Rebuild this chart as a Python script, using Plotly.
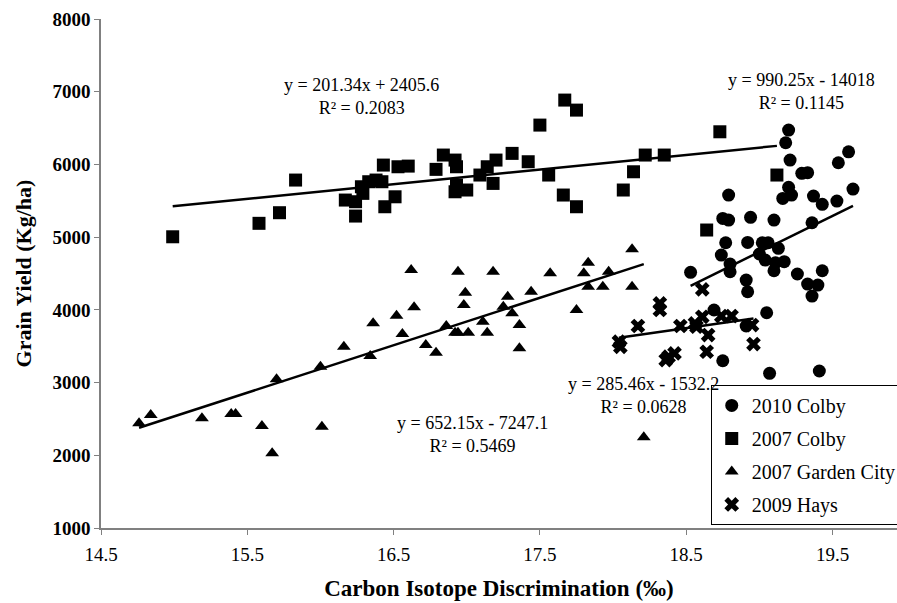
import plotly.graph_objects as go

# ---------------- data ----------------
colby2010_x = [19.20, 19.18, 19.21, 19.29, 19.33, 19.61, 19.54, 19.64, 19.20, 19.16,
               19.22, 19.37, 19.43, 19.53, 18.79, 18.75, 18.79, 18.94, 19.10, 19.36,
               18.77, 18.92, 19.02, 19.06, 19.13, 18.74, 19.00, 19.04, 19.11, 19.17,
               18.80, 18.80, 19.10, 18.53, 19.26, 19.43, 18.91, 19.33, 19.40, 18.92,
               19.36, 19.05, 18.69, 18.91, 18.75, 19.07, 19.41]
colby2010_y = [6473, 6298, 6060, 5877, 5886, 6174, 6023, 5661, 5685, 5533,
               5579, 5565, 5451, 5496, 5579, 5258, 5235, 5272, 5235, 5198,
               4923, 4928, 4923, 4923, 4846, 4754, 4768, 4685, 4648, 4662,
               4630, 4524, 4538, 4516, 4493, 4538, 4410, 4355, 4341, 4249,
               4190, 3960, 3998, 3778, 3300, 3127, 3159]

colby2007_x = [14.99, 15.58, 15.72, 15.83, 16.17, 16.24, 16.24, 16.29, 16.28, 16.33,
               16.38, 16.42, 16.43, 16.44, 16.51, 16.53, 16.60, 16.79, 16.84, 16.92,
               16.93, 16.93, 16.92, 17.00, 17.09, 17.14, 17.18, 17.20, 17.31, 17.42,
               17.50, 17.56, 17.67, 17.75, 17.66, 17.75, 18.07, 18.14, 18.22, 18.35,
               18.73, 19.12, 18.64]
colby2007_y = [5005, 5190, 5336, 5785, 5510, 5290, 5487, 5602, 5693, 5762,
               5785, 5762, 5991, 5418, 5555, 5968, 5977, 5932, 6129, 6060,
               5968, 5716, 5624, 5648, 5854, 5968, 5739, 6060, 6152, 6037,
               6541, 5854, 6885, 6747, 5579, 5418, 5648, 5899, 6129, 6129,
               6449, 5854, 5098]

garden_x = [14.76, 14.84, 15.19, 15.39, 15.42, 15.60, 15.67, 16.01, 15.70, 16.00,
            16.16, 16.34, 16.36, 16.52, 16.56, 16.62, 16.64, 16.72, 16.79, 16.86,
            16.92, 16.94, 17.01, 16.94, 16.99, 16.98, 17.11, 17.14, 17.18, 17.28,
            17.25, 17.31, 17.36, 17.36, 17.44, 17.57, 17.75, 17.83, 17.80, 17.83,
            17.93, 17.97, 18.13, 18.13, 18.21]
garden_y = [2440, 2554, 2508, 2568, 2568, 2403, 2027, 2393, 3045, 3218,
            3493, 3365, 3815, 3919, 3668, 4548, 4035, 3516, 3411, 3778,
            3686, 3686, 3686, 4524, 4236, 4066, 3837, 3686, 4524, 4180,
            4043, 3952, 3791, 3471, 4249, 4502, 3998, 4648, 4502, 4318,
            4318, 4524, 4318, 4832, 2247]

hays_x = [18.05, 18.04, 18.17, 18.32, 18.32, 18.38, 18.36, 18.42, 18.46, 18.56,
          18.61, 18.57, 18.61, 18.65, 18.64, 18.74, 18.81, 18.95, 18.96]
hays_y = [3490, 3562, 3778, 4090, 3998, 3356, 3310, 3402, 3778, 3815,
          3905, 3768, 4282, 3654, 3424, 3915, 3915, 3791, 3530]

series_names = ["2010 Colby", "2007 Colby", "2007 Garden City", "2009 Hays"]
slopes = [990.25, 201.34, 652.15, 285.46]
intercepts = [-14018, 2405.6, -7247.1, -1532.2]
r2_values = ["0.1145", "0.2083", "0.5469", "0.0628"]
eq_label_x = [19.29, 16.28, 17.04, 18.21]
eq_label_y = [7009, 6940, 2292, 2829]

x_ticks = [14.5, 15.5, 16.5, 17.5, 18.5, 19.5]
y_ticks = [1000, 2000, 3000, 4000, 5000, 6000, 7000, 8000]

# ---------------- figure ----------------
FONT = "Liberation Serif, Times New Roman, serif"
xs = [colby2010_x, colby2007_x, garden_x, hays_x]
ys = [colby2010_y, colby2007_y, garden_y, hays_y]
symbols = ["circle", "square", "triangle-up", "x"]
sizes = [13, 13, 12, 13]

fig = go.Figure()

# trend lines
for i in range(4):
    x0, x1 = min(xs[i]), max(xs[i])
    fig.add_trace(go.Scatter(
        x=[x0, x1], y=[slopes[i] * x0 + intercepts[i], slopes[i] * x1 + intercepts[i]],
        mode="lines", line=dict(color="black", width=2.5),
        showlegend=False, hoverinfo="skip"))

for i in range(4):
    fig.add_trace(go.Scatter(
        x=xs[i], y=ys[i], mode="markers", name=series_names[i],
        legendgroup=f"g{i}",
        marker=dict(symbol=symbols[i], size=sizes[i], color="black",
                    line=dict(width=0, color="black"))))

for i in range(4):
    b = intercepts[i]
    sign = "+" if b >= 0 else "-"
    txt = f"y = {slopes[i]:.2f}x {sign} {abs(b):g}<br>R² = {r2_values[i]}"
    fig.add_annotation(x=eq_label_x[i], y=eq_label_y[i], text=txt, showarrow=False,
                       align="center", font=dict(family=FONT, size=18, color="black"))

fig.update_layout(
    width=897, height=603,
    margin=dict(l=101, r=0, t=19, b=75, autoexpand=False),
    plot_bgcolor="white", paper_bgcolor="white",
    font=dict(family=FONT, color="black"),
    legend=dict(x=0.766, y=0.281, xanchor="left", yanchor="top",
                bgcolor="white", bordercolor="black", borderwidth=1,
                font=dict(family=FONT, size=20, color="black"),
                itemwidth=30, tracegroupgap=4),
    showlegend=True,
)
fig.update_xaxes(range=[14.5, 14.5 + 796 / 146.3], tickvals=x_ticks,
                 ticktext=[f"{v:.1f}" for v in x_ticks],
                 showline=True, linecolor="#808080", linewidth=1.5,
                 ticks="outside", ticklen=5, tickcolor="#808080",
                 ticklabelstandoff=3,
                 showgrid=False, zeroline=False,
                 tickfont=dict(family=FONT, size=19, color="black"),
                 title=dict(text="Carbon Isotope Discrimination (‰)",
                            font=dict(family=FONT, size=23, color="black", weight="bold"),
                            standoff=16))
fig.update_yaxes(range=[1000, 8000], tickvals=y_ticks,
                 showline=True, linecolor="#808080", linewidth=1.5,
                 ticks="outside", ticklen=5, tickcolor="#808080",
                 showgrid=False, zeroline=False,
                 tickfont=dict(family=FONT, size=19, color="black", weight="bold"),
                 title=dict(text="Grain Yield (Kg/ha)",
                            font=dict(family=FONT, size=22, color="black", weight="bold"),
                            standoff=15))

fig.write_html("out.html", config={"displayModeBar": False},
               post_script="document.body.style.margin='0';document.body.style.padding='0';")
